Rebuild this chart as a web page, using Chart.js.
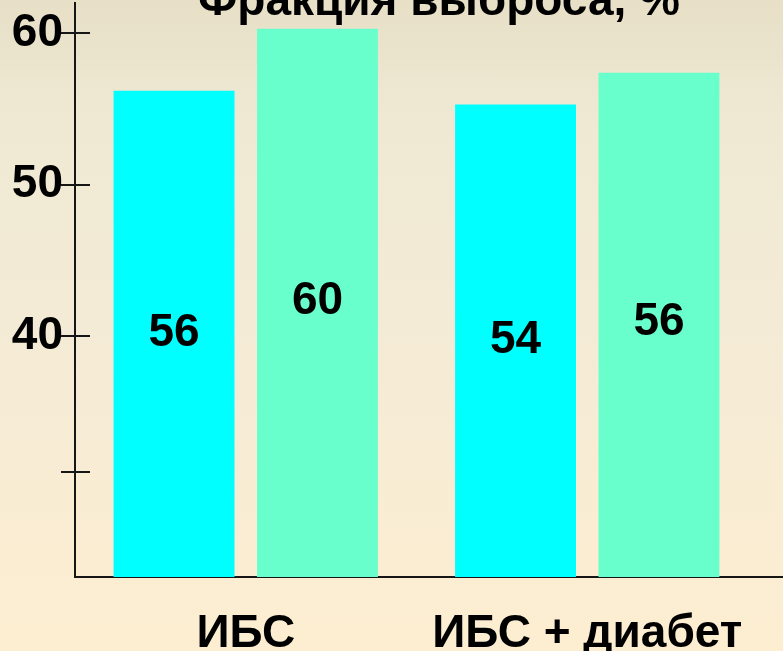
<!DOCTYPE html>
<html>
<head>
<meta charset="utf-8">
<script src="https://cdn.jsdelivr.net/npm/chart.js@4"></script>
<style>
    html, body { margin: 0; padding: 0; overflow: hidden; }
    body {
        width: 783px;
        height: 651px;
        background: linear-gradient(to bottom, #e7dfc6 0%, #efe9d4 18%, #f4ebd6 50%, #fdeed1 100%);
    }
    #wrap { position: relative; width: 783px; height: 651px; }
</style>
</head>
<body>
<div id="wrap"><canvas id="efChart"></canvas></div>
<script>
// Фракция выброса by group
const chartTitle = 'Фракция выброса, %';
const categories = ['ИБС', 'ИБС + диабет'];
const barsBefore = [56.2, 55.3];
const barsAfter = [60.3, 57.4];
const textBefore = ['56', '54'];
const textAfter = ['60', '56'];
const textAtBefore = [40.2, 39.7];
const textAtAfter = [42.3, 40.9];
const yTicks = [60, 50, 40, 31];
const yTickLabels = ['60', '50', '40', ''];

const FONT = "'Liberation Sans', Arial, sans-serif";
const INK = '#161616';

// title sits at the very top, half cut off
const titlePlugin = {
    id: 'topTitle',
    afterDraw(chart) {
        const ctx = chart.ctx;
        ctx.save();
        ctx.font = 'bold 46px ' + FONT;
        ctx.fillStyle = '#000';
        ctx.textAlign = 'center';
        ctx.textBaseline = 'alphabetic';
        ctx.fillText(chartTitle, 439, 15);
        ctx.restore();
    }
};

// tick marks crossing the y axis, and x axis line running to the edge
const axisPlugin = {
    id: 'axisMarks',
    afterDraw(chart) {
        const ctx = chart.ctx;
        const y = chart.scales.y;
        const area = chart.chartArea;
        ctx.save();
        ctx.strokeStyle = INK;
        ctx.lineWidth = 2;
        ctx.beginPath();
        y.ticks.forEach(function(t) {
            const py = Math.round(y.getPixelForValue(t.value));
            ctx.moveTo(area.left - 14, py);
            ctx.lineTo(area.left + 15, py);
        });
        ctx.moveTo(area.right - 1, area.bottom);
        ctx.lineTo(chart.width, area.bottom);
        ctx.stroke();
        ctx.restore();
    }
};

// numbers written inside the bars
const valuePlugin = {
    id: 'barText',
    afterDatasetsDraw(chart) {
        const ctx = chart.ctx;
        const y = chart.scales.y;
        const texts = [textBefore, textAfter];
        const at = [textAtBefore, textAtAfter];
        ctx.save();
        ctx.font = 'bold 46px ' + FONT;
        ctx.fillStyle = '#000';
        ctx.textAlign = 'center';
        ctx.textBaseline = 'middle';
        chart.data.datasets.forEach(function(ds, di) {
            chart.getDatasetMeta(di).data.forEach(function(bar, i) {
                ctx.fillText(texts[di][i], bar.x, y.getPixelForValue(at[di][i]));
            });
        });
        ctx.restore();
    }
};

new Chart(document.getElementById('efChart'), {
    type: 'bar',
    data: {
        labels: categories,
        datasets: [
            { data: barsBefore, backgroundColor: '#00ffff', borderWidth: 0 },
            { data: barsAfter, backgroundColor: '#69ffcc', borderWidth: 0 }
        ]
    },
    options: {
        responsive: true,
        maintainAspectRatio: false,
        animation: false,
        events: [],
        layout: { padding: { top: 3, right: 25, left: 0, bottom: 0 } },
        datasets: {
            bar: { categoryPercentage: 0.84, barPercentage: 0.843 }
        },
        plugins: {
            legend: { display: false },
            tooltip: { enabled: false },
            title: { display: false }
        },
        scales: {
            x: {
                grid: { display: false, drawTicks: false },
                border: { display: true, color: INK, width: 2 },
                ticks: {
                    color: '#000',
                    padding: 30,
                    font: { size: 46, weight: 'bold', family: FONT }
                },
                afterFit(scale) {
                    scale.height = 74;
                    scale.paddingLeft = 0;
                    scale.paddingRight = 0;
                }
            },
            y: {
                min: 24.1,
                max: 62,
                grid: { display: false, drawTicks: false },
                border: { display: true, color: INK, width: 2 },
                afterBuildTicks(scale) {
                    scale.ticks = yTicks.map(v => ({ value: v }));
                },
                ticks: {
                    color: '#000',
                    padding: 12,
                    font: { size: 46, weight: 'bold', family: FONT },
                    callback: function(value) {
                        return yTickLabels[yTicks.indexOf(value)];
                    }
                },
                afterFit(scale) {
                    scale.width = 75;
                    scale.paddingTop = 0;
                    scale.paddingBottom = 0;
                }
            }
        }
    },
    plugins: [titlePlugin, axisPlugin, valuePlugin]
});
</script>
</body>
</html>
